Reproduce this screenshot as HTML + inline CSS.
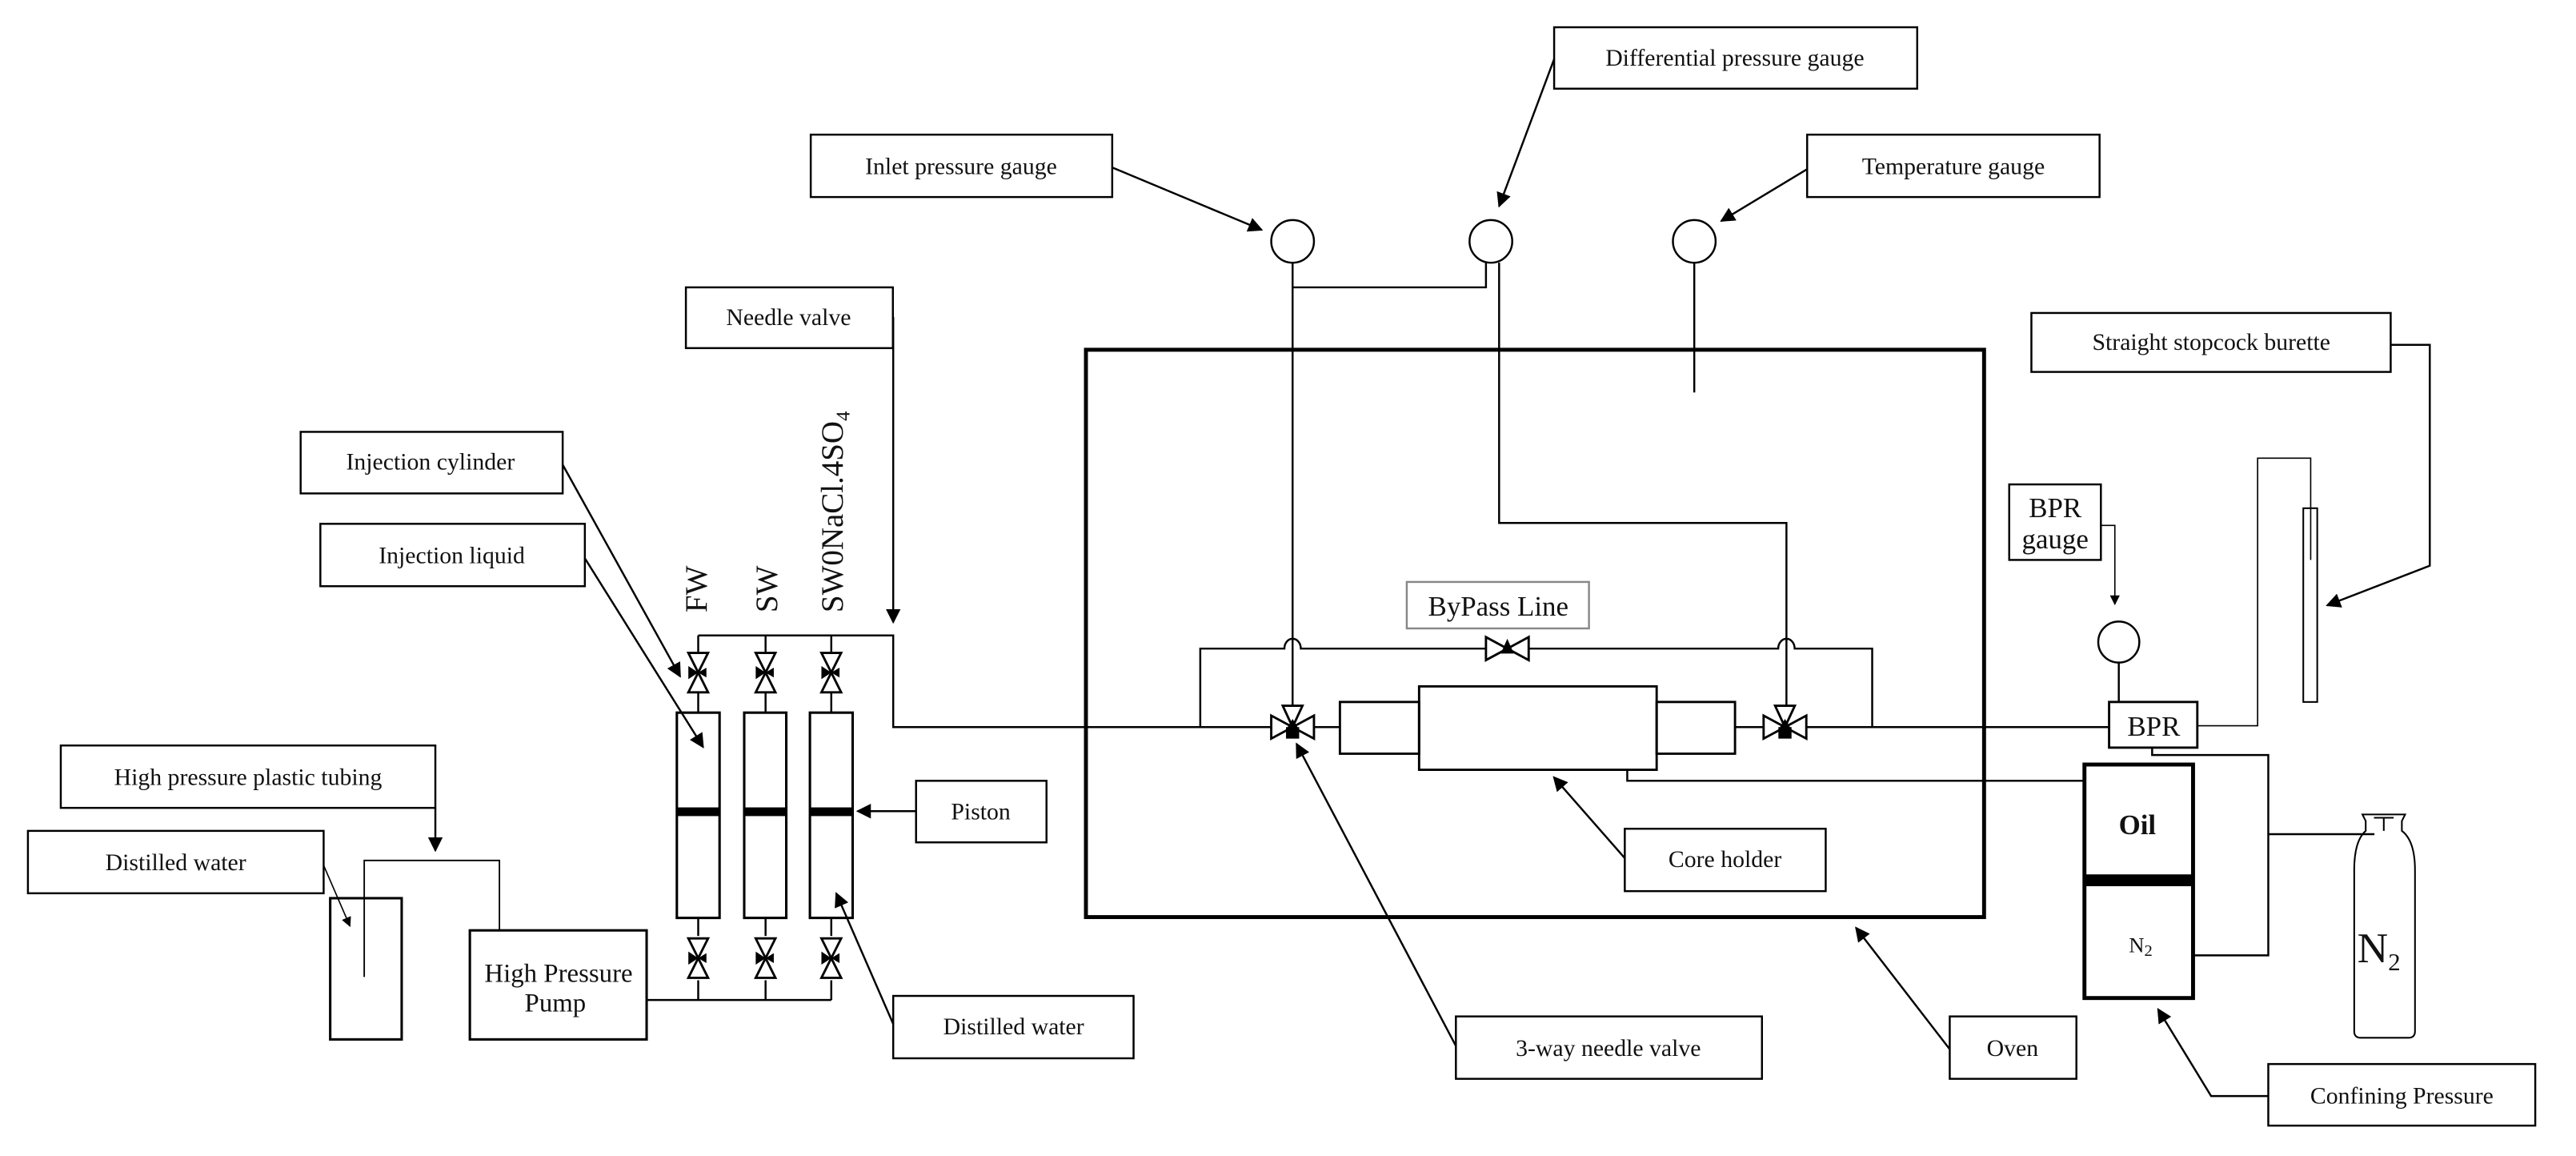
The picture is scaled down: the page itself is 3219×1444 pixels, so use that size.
<!DOCTYPE html>
<html><head><meta charset="utf-8"><style>
html,body{margin:0;padding:0;background:#fff;}
svg{display:block;}
text{font-family:"Liberation Serif",serif;fill:#111;}
</style></head><body>
<svg width="3219" height="1444" viewBox="0 0 1568 704" preserveAspectRatio="none" xmlns="http://www.w3.org/2000/svg">
<defs>
<marker id="a" viewBox="0 0 10 10" refX="9" refY="5" markerWidth="9" markerHeight="9" markerUnits="userSpaceOnUse" orient="auto"><path d="M0,0 L10,5 L0,10 z" fill="#000"/></marker>
<marker id="s" viewBox="0 0 10 10" refX="9" refY="5" markerWidth="6" markerHeight="6" markerUnits="userSpaceOnUse" orient="auto"><path d="M0,0 L10,5 L0,10 z" fill="#000"/></marker>
<g id="vv"><path d="M-6,-12 L6,-12 L0,0 Z M-6,12 L6,12 L0,0 Z" fill="#fff" stroke="#000" stroke-width="1.4"/><path d="M-6,-4 L-6,4 L0,0 Z M0,0 L5,-3 L5,3 Z" fill="#000"/></g>
<g id="tv"><path d="M-13,-7 L-13,7 L0,0 Z M13,-7 L13,7 L0,0 Z M-6,-13 L6,-13 L0,0 Z" fill="#fff" stroke="#000" stroke-width="1.4"/><path d="M-4,0 L4,0 L4,7 L-4,7 Z M-3,0 L0,-5 L3,0 Z" fill="#000"/></g>
</defs>
<g fill="none" stroke="#000" stroke-width="1.2">
<rect x="493.5" y="82" width="183.5" height="38"/>
<rect x="946" y="16.6" width="221" height="37.4"/>
<rect x="1100" y="82" width="178" height="38"/>
<rect x="417.5" y="175" width="126" height="37"/>
<rect x="183" y="263" width="159.5" height="37.5"/>
<rect x="195" y="319" width="161" height="38"/>
<rect x="37" y="454" width="228" height="38"/>
<rect x="17" y="506" width="180" height="38"/>
<rect x="557.6" y="475.5" width="79.4" height="37.5"/>
<rect x="543.7" y="606.5" width="146.3" height="38"/>
<rect x="1236.5" y="190.6" width="218.7" height="35.9"/>
<rect x="1223" y="295" width="55.8" height="46"/>
<rect x="989" y="504.7" width="122.3" height="38"/>
<rect x="886.2" y="619" width="186.3" height="38"/>
<rect x="1186.8" y="619" width="77.1" height="38"/>
<rect x="1380.7" y="648" width="162.5" height="37.5"/>
<rect x="856.3" y="354.4" width="110.9" height="28.3" stroke="#888"/>
<path d="M677,102 L768,140" marker-end="url(#a)"/>
<path d="M946,36 L912.5,125.6" marker-end="url(#a)"/>
<path d="M1100,103 L1047.7,134.6" marker-end="url(#a)"/>
<path d="M543.7,193 L543.7,379" marker-end="url(#a)"/>
<path d="M342.5,283 L414,412" marker-end="url(#a)"/>
<path d="M356,340 L428,455" marker-end="url(#a)"/>
<path d="M265,492 L265,518" marker-end="url(#a)"/>
<path d="M197,527 L213,564" marker-end="url(#s)" stroke-width="0.8"/>
<path d="M557.6,494 L522,494" marker-end="url(#a)"/>
<path d="M543.7,623.6 L509,544" marker-end="url(#a)"/>
<path d="M1186.8,639 L1129.7,565" marker-end="url(#a)"/>
<path d="M886.2,637 L789.2,453" marker-end="url(#a)"/>
<path d="M989,522.6 L945.8,473.3" marker-end="url(#a)"/>
<path d="M1380.7,667.5 L1345.9,667.5 L1313.6,614.6" marker-end="url(#a)"/>
<path d="M1278.8,320 L1287.3,320 L1287.3,368" marker-end="url(#s)" stroke-width="0.8"/>
<path d="M1455.2,210 L1479,210 L1479,344.5 L1416.5,368.7" marker-end="url(#a)"/>
<rect x="201" y="547" width="43.5" height="86" stroke-width="1.5"/>
<path d="M221.7,595 L221.7,524 L304,524 L304,566.6" stroke-width="0.9"/>
<rect x="286" y="566.6" width="107.6" height="66.4" stroke-width="1.5"/>
<path d="M393.6,609 L506,609"/>
<path d="M425,609 L425,597 M466,609 L466,597 M506,609 L506,597 M425,570 L425,559 M466,570 L466,559 M506,570 L506,559 M425,434 L425,422 M466,434 L466,422 M506,434 L506,422 M425,397 L425,387 M466,397 L466,387 M506,397 L506,387"/>
<path d="M425,387 L543.7,387 L543.7,442.8 L775,442.8"/>
<rect x="412" y="434" width="26" height="125" stroke-width="1.5"/>
<rect x="453" y="434" width="25.6" height="125" stroke-width="1.5"/>
<rect x="493" y="434" width="26" height="125" stroke-width="1.5"/>
<rect x="661" y="213" width="546.7" height="345.5" stroke-width="2.4"/>
<circle cx="786.8" cy="147" r="13"/>
<circle cx="907.5" cy="147" r="13"/>
<circle cx="1031.3" cy="147" r="13"/>
<circle cx="1289.7" cy="391" r="12.5"/>
<path d="M1031.3,160 L1031.3,239"/>
<path d="M786.8,160 L786.8,430" />
<path d="M786.8,175 L904.5,175 L904.5,160"/>
<path d="M912.5,160 L912.5,318.5 L1087.4,318.5 L1087.4,430"/>
<path d="M730.6,442.8 L730.6,395 L781.8,395 A5,6 0 0 1 791.8,395 L1082.4,395 A5,6 0 0 1 1092.4,395 L1139.6,395 L1139.6,442.8"/>
<path d="M1100,442.8 L1283.8,442.8"/>
<path d="M800,442.8 L815.6,442.8 M1056.1,442.8 L1073,442.8"/>
<rect x="815.6" y="427.5" width="48.2" height="31.5" stroke-width="1.4"/>
<rect x="863.8" y="418" width="144.6" height="50.8" stroke-width="1.4"/>
<rect x="1008.4" y="427.5" width="47.7" height="31.5" stroke-width="1.4"/>
<path d="M990.5,468.8 L990.5,475.5 L1268.8,475.5"/>
<rect x="1283.8" y="427.5" width="53.7" height="27.8" stroke-width="1.4"/>
<path d="M1289.7,403.5 L1289.7,427.5"/>
<path d="M1337.5,442 L1374.2,442 L1374.2,279 L1406.5,279 L1406.5,309.5" stroke-width="0.8"/>
<rect x="1402" y="309.5" width="8.5" height="118" stroke-width="1"/>
<path d="M1406.5,309.5 L1406.5,341" stroke-width="0.8"/>
<path d="M1310,455.3 L1310,459.8 L1380.7,459.8 L1380.7,581.8 L1334.9,581.8 M1380.7,508 L1445.3,508"/>
<rect x="1268.8" y="465.6" width="66.1" height="142.2" stroke-width="2.4"/>
<path d="M1440,506 L1440,500 L1438,496 L1464,496 L1462,500 L1462,506 Q1470,512 1470,530 L1470,628 Q1470,632 1466,632 L1437,632 Q1433,632 1433,628 L1433,530 Q1433,512 1440,506 Z" stroke-width="1"/>
<path d="M1445,498 L1457,498 M1451,498 L1451,506" stroke-width="1"/>
</g>
<rect x="412" y="491.7" width="26" height="5.3" fill="#000"/>
<rect x="453" y="491.7" width="25.6" height="5.3" fill="#000"/>
<rect x="493" y="491.7" width="26" height="5.3" fill="#000"/>
<rect x="1268.8" y="532.5" width="66.1" height="7.2" fill="#000"/>
<use href="#vv" x="425" y="409.6"/><use href="#vv" x="466" y="409.6"/><use href="#vv" x="506" y="409.6"/>
<use href="#vv" x="425" y="583.5"/><use href="#vv" x="466" y="583.5"/><use href="#vv" x="506" y="583.5"/>
<use href="#tv" x="786.8" y="442.8"/><use href="#tv" x="1086.5" y="442.8"/>
<g transform="translate(917.5,395)"><path d="M-13,-7 L-13,7 L0,0 Z M13,-7 L13,7 L0,0 Z" fill="#fff" stroke="#000" stroke-width="1.4"/><path d="M-4,3 L4,3 L0,-6 Z" fill="#000"/></g>
<g font-size="14.5" text-anchor="middle">
<text x="585" y="106">Inlet pressure gauge</text>
<text x="1056" y="40">Differential pressure gauge</text>
<text x="1189" y="106">Temperature gauge</text>
<text x="480" y="198">Needle valve</text>
<text x="262" y="286">Injection cylinder</text>
<text x="275" y="343">Injection liquid</text>
<text x="151" y="478">High pressure plastic tubing</text>
<text x="107" y="530">Distilled water</text>
<text x="597" y="499">Piston</text>
<text x="617" y="630">Distilled water</text>
<text x="1346" y="213">Straight stopcock burette</text>
<text x="1050" y="528">Core holder</text>
<text x="979" y="643">3-way needle valve</text>
<text x="1225" y="643">Oven</text>
<text x="1462" y="672">Confining Pressure</text>
<text x="340" y="598" font-size="16">High Pressure</text>
<text x="338" y="616" font-size="16">Pump</text>
<text x="1251" y="315" font-size="17">BPR</text>
<text x="1251" y="334" font-size="17">gauge</text>
<text x="912" y="375" font-size="17">ByPass Line</text>
<text x="1311" y="448" font-size="17">BPR</text>
<text x="1301" y="508" font-size="17" font-weight="bold">Oil</text>
<text x="1303" y="580" font-size="13">N<tspan font-size="10" dy="2">2</tspan></text>
<text x="1448" y="586" font-size="26">N<tspan font-size="15" dy="5">2</tspan></text>
</g>
<g font-size="19">
<text transform="translate(430,373) rotate(-90)">FW</text>
<text transform="translate(473,373) rotate(-90)">SW</text>
<text transform="translate(513,373) rotate(-90)">SW0NaCl.4SO<tspan font-size="12" dy="4">4</tspan></text>
</g>
</svg>
</body></html>
